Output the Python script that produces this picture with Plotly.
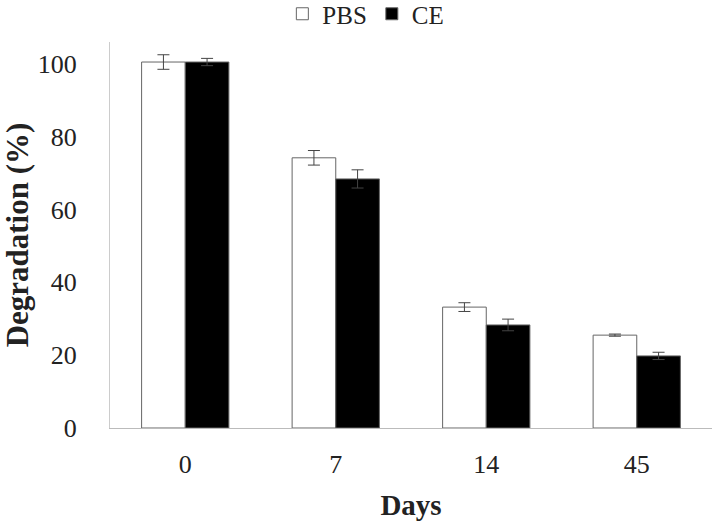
import plotly.graph_objects as go

days = ["0", "7", "14", "45"]
pbs = [100.5, 74.2, 33.2, 25.5]
pbs_err = [2.0, 2.0, 1.2, 0.3]
ce = [100.5, 68.4, 28.3, 19.8]
ce_err = [1.0, 2.5, 1.6, 1.0]

font_family = "Liberation Serif, DejaVu Serif, serif"

fig = go.Figure()
fig.add_trace(go.Bar(
    name="PBS", x=days, y=pbs,
    marker=dict(color="white", line=dict(color="#666666", width=1)),
    error_y=dict(type="data", array=pbs_err, visible=True, color="#444444", thickness=1, width=6),
))
fig.add_trace(go.Bar(
    name="CE", x=days, y=ce,
    marker=dict(color="black", line=dict(color="#666666", width=1)),
    error_y=dict(type="data", array=ce_err, visible=True, color="#444444", thickness=1, width=6),
))

fig.update_layout(
    width=720, height=521,
    margin=dict(l=110, r=8, t=42, b=93, autoexpand=False),
    paper_bgcolor="white", plot_bgcolor="white",
    barmode="group", bargap=0.42, bargroupgap=0,
    font=dict(family=font_family, color="#222222", size=26),
    showlegend=True,
    legend=dict(orientation="h", x=0.425, xanchor="center", y=1.0725, yanchor="middle",
                font=dict(size=25), itemwidth=30, tracegroupgap=0),
    xaxis=dict(
        automargin=False,
        showline=True, linecolor="#bbbbbb", linewidth=1,
        ticks="", ticklabelstandoff=13,
        tickfont=dict(size=26),
        title=dict(text="<b>Days</b>", font=dict(size=29), standoff=16),
        showgrid=False,
    ),
    yaxis=dict(
        automargin=False,
        range=[0, 106], showline=True, linecolor="#cccccc", linewidth=1,
        tickvals=[0, 20, 40, 60, 80, 100],
        ticks="", ticklabelstandoff=27,
        tickfont=dict(size=26),
        title=dict(text="<b>Degradation (%)</b>", font=dict(size=31), standoff=5),
        showgrid=False, zeroline=False,
    ),
)

fig.write_html("out.html", config={"displayModeBar": False},
               post_script="document.body.style.margin='0';")
